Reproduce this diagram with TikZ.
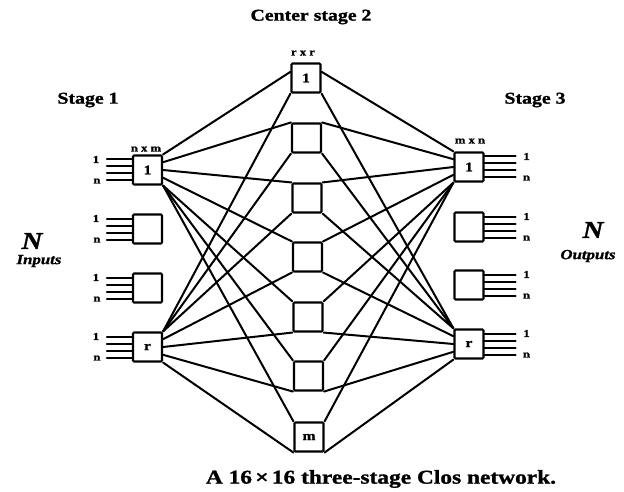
\documentclass[tikz,border=0pt]{standalone}
\usepackage{fontspec}
\setmainfont{Liberation Serif}[FakeStretch=1.2, BoldFeatures={FakeBold=1.3}, BoldItalicFeatures={FakeBold=1.3}]
\usetikzlibrary{calc}
\begin{document}
\begin{tikzpicture}[x=1pt,y=-1pt,
  wire/.style={line width=2pt, line cap=round},
  sw/.style={draw, line width=2.1pt, minimum width=29pt, minimum height=29pt,
    inner sep=0pt, rounded corners=1pt, font=\bfseries\fontsize{13}{13}\selectfont},
  tag/.style={font=\bfseries\fontsize{10.5}{11}\selectfont, inner sep=0pt},
  pin/.style={font=\bfseries\fontsize{10.5}{11}\selectfont, inner sep=0pt},
  head/.style={font=\bfseries\fontsize{16.5}{17}\selectfont, inner sep=0pt},
  bigN/.style={font=\bfseries\itshape\fontsize{24}{24}\selectfont, inner sep=0pt},
  side/.style={font=\bfseries\itshape\fontsize{14}{14}\selectfont, inner sep=0pt}]
\useasboundingbox (0,0) rectangle (624,492);

% stage 1 switches (n x m)
\node[sw] (a1) at (147.5,170) {1};
\node[sw] (a2) at (147.5,229) {};
\node[sw] (a3) at (147.5,288) {};
\node[sw] (ar) at (147.5,347) {r};

% centre stage switches (r x r)
\node[sw] (c1) at (306,78)  {1};
\node[sw] (c2) at (306.5,138) {};
\node[sw] (c3) at (307,198) {};
\node[sw] (c4) at (307.5,257) {};
\node[sw] (c5) at (308,317) {};
\node[sw] (c6) at (308.5,376) {};
\node[sw] (c7) at (309,437) {m};

% stage 3 switches (m x n)
\node[sw] (b1) at (469,167) {1};
\node[sw] (b2) at (469,227) {};
\node[sw] (b3) at (469,285) {};
\node[sw] (br) at (469,344) {r};

% input and output lines, four per switch
\foreach \s in {a1,a2,a3,ar} {
  \foreach \d in {10.5,3.5,-3.5,-10.5}
    \draw[wire] ([yshift=\d pt]\s.west) -- ++(-25,0);
  \node[pin] at ($(\s.west)+(-36,-10.5)$) {1};
  \node[pin] at ($(\s.west)+(-35,11)$) {n};
}
\foreach \s in {b1,b2,b3,br} {
  \foreach \d in {10.5,3.5,-3.5,-10.5}
    \draw[wire] ([yshift=\d pt]\s.east) -- ++(31,0);
  \node[pin] at ($(\s.east)+(42,-10.5)$) {1};
  \node[pin] at ($(\s.east)+(42,11)$) {n};
}

% links between the stages
\foreach \k/\fa/\fb/\g in {1/0/0/0.3, 2/0.25/0/0, 3/0.5/0/0, 4/0.75/0.25/0,
                            5/1/0.5/0, 6/1/0.75/0, 7/1/1/0} {
  \draw[wire] ($(a1.north east)!\fa!(a1.south east)$) -- ($(c\k.north west)!\g!(c\k.south west)$);
  \draw[wire] ($(ar.north east)!\fb!(ar.south east)$) -- (c\k.south west);
  \draw[wire] ($(b1.north west)!\fa!(b1.south west)$) -- ($(c\k.north east)!\g!(c\k.south east)$);
  \draw[wire] ($(br.north west)!\fb!(br.south west)$) -- (c\k.south east);
}

% switch sizes
\node[tag] (ta) at (146,149) {n x m};
\node[tag] (tc) at (303,53) {r x r};
\node[tag] (tb) at (470,141) {m x n};

% headings
\node[head] (h2) at (311,17) {Center stage 2};
\node[head] (h1) at (88,100) {Stage 1};
\node[head] (h3) at (535,100) {Stage 3};

\node[bigN] (ni) at (32,241) {N};
\node[side] (li) at (39,261) {Inputs};
\node[bigN] (no) at (593,230) {N};
\node[side] (lo) at (588,256) {Outputs};

% caption
\node[font=\bfseries\fontsize{19.5}{20}\selectfont, inner sep=0pt] (cap) at (381,479)
  {A 16\,\texttimes\,16 three-stage Clos network.};
\end{tikzpicture}
\end{document}
